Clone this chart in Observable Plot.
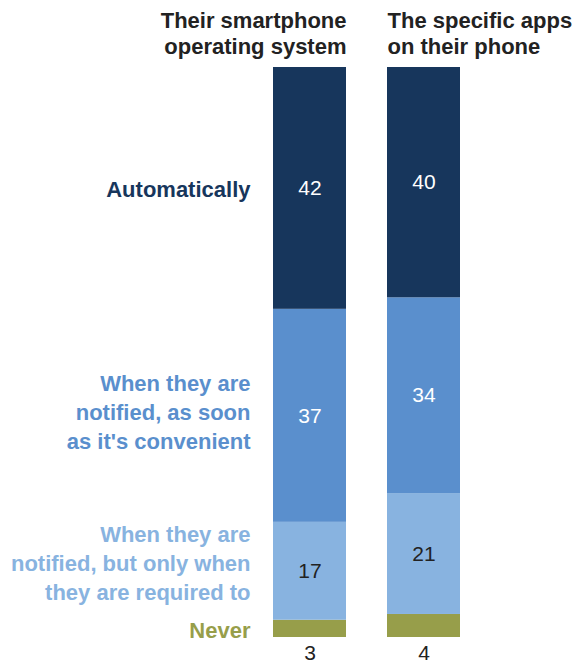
<!DOCTYPE html>
<html>
<head>
<meta charset="utf-8">
<script src="https://cdn.jsdelivr.net/npm/d3@7"></script>
<script src="https://cdn.jsdelivr.net/npm/@observablehq/plot@0.6"></script>
<style>
  html, body { margin: 0; padding: 0; background: #fff; }
  #chart svg { display: block; }
</style>
</head>
<body>
<div id="chart"></div>
<script>
const categories = ["Their smartphone\noperating system", "The specific apps\non their phone"];
const responses = ["Automatically", "When they are notified, as soon as it's convenient", "When they are notified, but only when they are required to", "Never"];
const responseLabels = ["Automatically", "When they are\nnotified, as soon\nas it's convenient", "When they are\nnotified, but only when\nthey are required to", "Never"];
const osValues = [42, 37, 17, 3];
const appsValues = [40, 34, 21, 4];
const colors = ["#17365c", "#5a8fcd", "#88b3e0", "#979e4a"];
const valueColors = ["#ffffff", "#ffffff", "#222222", "#222222"];

const series = [osValues, appsValues];
const data = [];
// stack from the bottom (Never) up to the top (Automatically)
for (let r = responses.length - 1; r >= 0; r--) {
  categories.forEach((c, ci) => {
    data.push({category: c, response: responses[r], label: responseLabels[r], value: series[ci][r], ri: r});
  });
}

const boldFont = "Liberation Sans, Arial, sans-serif";
const labelShift = [-1, -5, -10, 0];

const chart = Plot.plot({
  width: 578,
  height: 665,
  marginLeft: 273,
  marginRight: 118,
  marginTop: 67,
  marginBottom: 28,
  style: {fontFamily: "Liberation Sans, Arial, sans-serif", background: "#fff"},
  x: {domain: categories, paddingInner: 0.36, paddingOuter: 0, axis: null},
  y: {domain: [0, 99], axis: null},
  color: {domain: responses, range: colors},
  marks: [
    Plot.barY(data, Plot.stackY({x: "category", y: "value", z: "response", fill: "response"})),
    // values inside bars
    Plot.text(data, Plot.stackY({
      x: "category", y: "value", z: "response",
      text: d => d.ri < 3 ? String(d.value) : null,
      fill: d => valueColors[d.ri], fontSize: 21
    })),
    // "Never" values below the bars
    Plot.text(data.filter(d => d.ri === 3), {
      x: "category", text: d => String(d.value), frameAnchor: "bottom", lineAnchor: "middle", dy: 16,
      fill: "#222", fontSize: 21
    }),
    // response labels on the left
    ...responses.map((r, i) => Plot.text(data, Plot.stackY({
      x: "category", y: "value", z: "response",
      text: d => (d.ri === i && d.category === categories[0]) ? d.label : null,
      fill: colors[i], textAnchor: "end", dx: -59.5, dy: labelShift[i],
      fontSize: 22, fontWeight: "bold", lineHeight: 1.32, fontFamily: boldFont
    }))),
    // column headers
    Plot.text([categories[0]], {
      x: d => d, text: d => d, frameAnchor: "top", lineAnchor: "bottom", textAnchor: "end",
      dx: 36.5, dy: -14, fontSize: 22, fontWeight: "bold", lineHeight: 1.18, fill: "#222", fontFamily: boldFont
    }),
    Plot.text([categories[1]], {
      x: d => d, text: d => d, frameAnchor: "top", lineAnchor: "bottom", textAnchor: "start",
      dx: -36.5, dy: -14, fontSize: 22, fontWeight: "bold", lineHeight: 1.18, fill: "#222", fontFamily: boldFont
    })
  ]
});
document.getElementById("chart").appendChild(chart);
</script>
</body>
</html>
